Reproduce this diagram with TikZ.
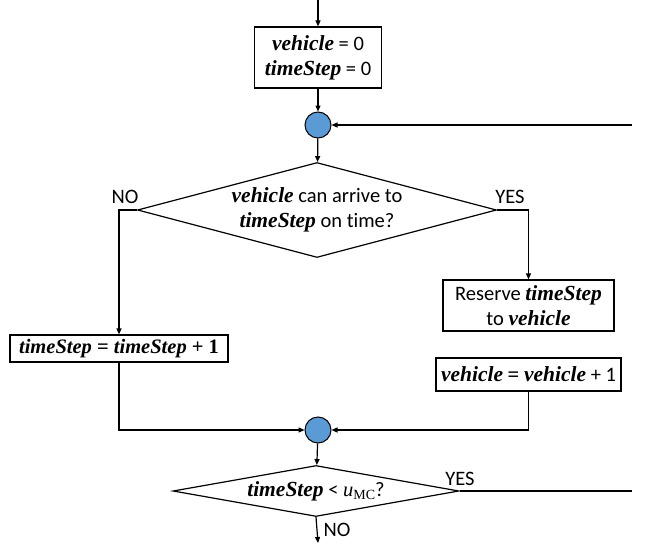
\documentclass[tikz,border=0pt]{standalone}
\usepackage{fontspec}
\setmainfont{Carlito}[Ligatures=NoCommon]
\newfontfamily\tnr{Liberation Serif}
\usetikzlibrary{shapes.geometric,arrows.meta}
\newcommand{\bv}[1]{{\tnr\bfseries\itshape\fontsize{21.5}{25}\selectfont #1}}
\definecolor{junction}{HTML}{5B9BD5}
\tikzset{
  arr/.style={-{Triangle[length=6pt,width=5pt]}},
  conn/.style={line width=1.2pt},
  box/.style={draw, line width=1.2pt, rectangle, inner sep=0pt, align=center},
  dec/.style={draw, line width=1.2pt, diamond, inner sep=0pt, align=center},
  junc/.style={draw, line width=1pt, circle, fill=junction, minimum size=26pt, inner sep=0pt},
  lbl/.style={inner sep=0pt}
}
\begin{document}
\begin{tikzpicture}[x=1pt,y=-1pt,font=\fontsize{20.5}{25}\selectfont]
\useasboundingbox (0,0) rectangle (645,543);

% entry point and initialisation
\coordinate (start) at (318,0);
\node[box, minimum width=127pt, minimum height=61pt] (init) at (318,57.5)
  {\bv{vehicle} = 0\\\bv{timeStep} = 0};

% loop junction and feasibility test
\node[junc] (c1) at (318,125) {};
\coordinate (loopin) at (632,125);
\node[dec, shape aspect=3.78, minimum width=359pt, minimum height=95pt] (d1) at (317,210)
  {\bv{vehicle} can arrive to\\\bv{timeStep} on time?};
\node[lbl] (no1) at (125,197) {NO};
\node[lbl] (yes1) at (510,197) {YES};

% branch actions
\node[box, minimum width=218pt, minimum height=27pt] (inc) at (119,348.5)
  {{\tnr\bfseries\itshape timeStep\/ \upshape= \itshape timeStep\/ \upshape+ 1}};
\node[box, minimum width=171pt, minimum height=51pt] (res) at (528.5,305.5)
  {Reserve \bv{timeStep}\\to \bv{vehicle}};
\node[box, minimum width=185pt, minimum height=33pt] (vinc) at (528.5,374.5)
  {\bv{vehicle} {\tnr\bfseries =} \bv{vehicle} + 1};

% merge junction and end test
\node[junc] (c2) at (318,430) {};
\node[dec, shape aspect=5.6, minimum width=286pt, minimum height=51pt] (d2) at (316,491)
  {\bv{timeStep} < {\tnr\itshape u}{\fontsize{14}{16}\selectfont\raisebox{-3.5pt}{\tnr MC}}?};
\coordinate (loopout) at (632,491);
\coordinate (exit) at (318,543);
\node[lbl] (yes2) at (460,479) {YES};
\node[lbl] (no2) at (337,530) {NO};

% connectors
\draw[conn, arr] (start) -- (init);
\draw[conn, arr] (init) -- (c1);
\draw[conn, arr] (loopin) -- (c1);
\draw[conn, arr] (c1) -- (d1);
\draw[conn, arr] (d1.west) -| (inc);
\draw[conn, arr] (d1.east) -| (res);
\draw[conn, arr] (inc) |- (c2);
\draw[conn, arr] (vinc) |- (c2);
\draw[conn, arr] (c2) -- (d2);
\draw[conn] (d2.east) -- (loopout);
\draw[conn, arr] (d2.south) -- (exit);
\end{tikzpicture}
\end{document}
